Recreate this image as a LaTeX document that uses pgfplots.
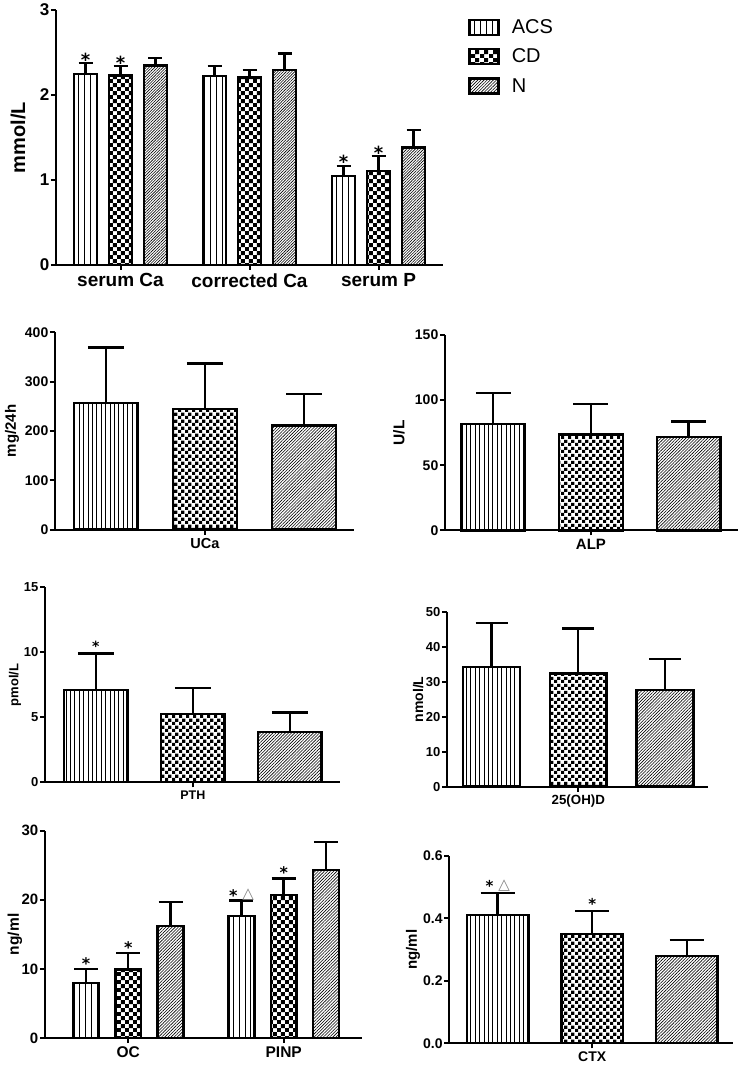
\documentclass[border=0pt]{standalone}
\usepackage{fontspec}
\setmainfont{Liberation Sans}
\newfontfamily\dejavu{DejaVu Sans}
\usepackage{pgfplots}
\pgfplotsset{compat=1.18}
\usetikzlibrary{patterns,patterns.meta}

\pgfdeclarepatternformonly{checkL}{\pgfpointorigin}{\pgfqpoint{8.4pt}{8.4pt}}{\pgfqpoint{8.4pt}{8.4pt}}{%
 \pgfpathrectangle{\pgfpointorigin}{\pgfqpoint{4.2pt}{4.2pt}}%
 \pgfpathrectangle{\pgfqpoint{4.2pt}{4.2pt}}{\pgfqpoint{4.2pt}{4.2pt}}%
 \pgfusepath{fill}}
\pgfdeclarepatternformonly{checkS}{\pgfpointorigin}{\pgfqpoint{6.6pt}{6.6pt}}{\pgfqpoint{6.6pt}{6.6pt}}{%
 \pgfpathrectangle{\pgfpointorigin}{\pgfqpoint{3.3pt}{3.3pt}}%
 \pgfpathrectangle{\pgfqpoint{3.3pt}{3.3pt}}{\pgfqpoint{3.3pt}{3.3pt}}%
 \pgfusepath{fill}}

\newcommand\fs[1]{\fontsize{#1}{#1}\selectfont}
\newcommand\st{{\dejavu\bfseries *}}
\newcommand\tri{{\dejavu\fontsize{15}{15}\selectfont\color{gray}\raisebox{2.5pt}{△}}}

\pgfplotsset{
 panel/.style={scale only axis, anchor=south west, clip=false,
   axis x line=bottom, axis y line=left,
   axis line style={line width=2pt,-}, tick align=outside, major tick length=5pt,
   tick style={line width=2pt, black}, ymin=0,
   yticklabel style={inner sep=1.5pt},
   /pgf/number format/assume math mode=true},
 bA/.style={ybar, bar shift=0pt, draw=black, line width=2.4pt, pattern={Lines[angle=90,distance=#1,line width=0.8pt]}, forget plot},
 bC/.style={ybar, bar shift=0pt, draw=black, line width=2.4pt, pattern=#1, forget plot},
 bN/.style={ybar, bar shift=0pt, draw=black, line width=2.4pt, pattern={Lines[angle=45,distance=#1,line width=0.6pt]}, forget plot},
 eb/.style={/pgfplots/error bars/y dir=plus, /pgfplots/error bars/y explicit,
   /pgfplots/error bars/error bar style={line width=2.4pt,black},
   /pgfplots/error bars/error mark options={rotate=90, line width=2.4pt, mark size=#1, black}},
 stars/.style 2 args={draw=none, forget plot, nodes near coords, point meta=explicit symbolic,
   nodes near coords style={anchor=base, inner sep=0pt, font=#1, yshift=#2}},
}

\begin{document}
\begin{tikzpicture}
\useasboundingbox (0,0) rectangle (742pt,1065pt);

% ---------- Panel 1 ----------
\begin{axis}[panel, at={(56pt,800pt)}, width=387pt, height=255pt,
 xmin=-0.5, xmax=2.5, ymax=3, ytick={0,1,2,3}, xtick={0,1,2},
 xticklabels={serum Ca, corrected Ca, serum P},
 bar width=0.175,
 yticklabel style={font=\fs{17}\bfseries},
 xticklabel style={font=\fs{19}\bfseries},
 ylabel={mmol/L}, ylabel style={font=\fs{20}\bfseries, at={(axis description cs:-0.098,0.5)}, anchor=center},
 legend image code/.code={\draw[#1] (0pt,-7.5pt) rectangle (29pt,7.5pt);},
 legend style={at={(1.065,0.975)}, anchor=north west, draw=none, fill=none, font=\fs{20},
   row sep=8pt, column sep=9pt, inner sep=0pt, nodes={inner sep=3pt}},
 legend cell align=left]
\addplot[bA=6pt, eb=7pt] coordinates {(-0.2713,2.247) +- (0,0.126) (0.7287,2.220) +- (0,0.120) (1.7287,1.047) +- (0,0.121)};
\addplot[bC=checkL, eb=7pt] coordinates {(0,2.227) +- (0,0.114) (1,2.208) +- (0,0.086) (2,1.109) +- (0,0.173)};
\addplot[bN=2pt, eb=7pt] coordinates {(0.2713,2.345) +- (0,0.087) (1.2713,2.294) +- (0,0.196) (2.2713,1.380) +- (0,0.208)};
\addplot[stars={\fs{18}}{-3.1pt}] coordinates {(-0.2713,2.373) [\st] (0,2.341) [\st] (1.7287,1.168) [\st] (2,1.282) [\st]};
\addlegendimage{draw=black, line width=2.4pt, pattern={Lines[angle=90,distance=6pt,line width=0.9pt]}}
\addlegendentry{ACS}
\addlegendimage{draw=black, line width=2.4pt, pattern=checkL}
\addlegendentry{CD}
\addlegendimage{draw=black, line width=2.4pt, pattern={Lines[angle=45,distance=2.2pt,line width=0.6pt]}}
\addlegendentry{N}
\end{axis}

% ---------- Panel 2: UCa ----------
\begin{axis}[panel, at={(55pt,535.3pt)}, width=299pt, height=197.4pt,
 xmin=-1.515, xmax=1.505, ymax=400, ytick={0,100,200,300,400}, xtick={0}, xticklabels={UCa},
 bar width=0.645,
 yticklabel style={font=\fs{14}\bfseries}, xticklabel style={font=\fs{14.5}\bfseries},
 ylabel={mg/24h}, ylabel style={font=\fs{15}\bfseries, at={(axis description cs:-0.144,0.5)}, anchor=center}]
\addplot[bA=4.4pt, eb=18pt] coordinates {(-1,257) +- (0,112)};
\addplot[bC=checkS, eb=18pt] coordinates {(0,245) +- (0,92)};
\addplot[bN=2.2pt, eb=18pt] coordinates {(1,211) +- (0,64)};
\end{axis}

% ---------- Panel 3: ALP ----------
\begin{axis}[panel, at={(445pt,534.5pt)}, width=293pt, height=195.5pt,
 xmin=-1.494, xmax=1.505, ymax=150, ytick={0,50,100,150}, xtick={0}, xticklabels={ALP},
 bar width=0.651,
 yticklabel style={font=\fs{14}\bfseries}, xticklabel style={font=\fs{15}\bfseries},
 ylabel={U/L}, ylabel style={font=\fs{15.5}\bfseries, at={(axis description cs:-0.157,0.5)}, anchor=center}]
\addplot[bA=4.4pt, eb=17.5pt] coordinates {(-1,81.5) +- (0,24)};
\addplot[bC=checkS, eb=17.5pt] coordinates {(0,73.7) +- (0,23.2)};
\addplot[bN=2.2pt, eb=17.5pt] coordinates {(1,71.8) +- (0,11.8)};
\end{axis}

% ---------- Panel 4: PTH ----------
\begin{axis}[panel, at={(45pt,282.7pt)}, width=295pt, height=195pt,
 xmin=-1.524, xmax=1.518, ymax=15, ytick={0,5,10,15}, xtick={0}, xticklabels={PTH},
 bar width=0.656,
 yticklabel style={font=\fs{13}\bfseries}, xticklabel style={font=\fs{12.5}\bfseries},
 ylabel={pmol/L}, ylabel style={font=\fs{13}\bfseries, at={(axis description cs:-0.102,0.5)}, anchor=center}]
\addplot[bA=4.4pt, eb=18pt] coordinates {(-1,7.1) +- (0,2.82)};
\addplot[bC=checkS, eb=18pt] coordinates {(0,5.25) +- (0,2.0)};
\addplot[bN=2.2pt, eb=18pt] coordinates {(1,3.85) +- (0,1.53)};
\addplot[stars={\fs{14}}{1.6pt}] coordinates {(-1,9.92) [\st]};
\end{axis}

% ---------- Panel 5: 25(OH)D ----------
\begin{axis}[panel, at={(447pt,278.3pt)}, width=261pt, height=174.4pt,
 xmin=-1.514, xmax=1.496, ymax=50, ytick={0,10,20,30,40,50}, xtick={0}, xticklabels={25(OH)D},
 bar width=0.653,
 yticklabel style={font=\fs{13}\bfseries}, xticklabel style={font=\fs{13.3}\bfseries},
 ylabel={nmol/L}, ylabel style={font=\fs{14}\bfseries, at={(axis description cs:-0.11,0.5)}, anchor=center}]
\addplot[bA=4.4pt, eb=16pt] coordinates {(-1,34.3) +- (0,12.6)};
\addplot[bC=checkS, eb=16pt] coordinates {(0,32.4) +- (0,13.0)};
\addplot[bN=2.2pt, eb=16pt] coordinates {(1,27.8) +- (0,8.8)};
\end{axis}

% ---------- Panel 6: OC / PINP ----------
\begin{axis}[panel, at={(45pt,27pt)}, width=316.7pt, height=207.3pt,
 xmin=-0.536, xmax=1.502, ymax=30, ytick={0,10,20,30}, xtick={0,1}, xticklabels={OC,PINP},
 bar width=0.165,
 yticklabel style={font=\fs{15}\bfseries}, xticklabel style={font=\fs{15.5}\bfseries},
 ylabel={ng/ml}, ylabel style={font=\fs{15.5}\bfseries, at={(axis description cs:-0.095,0.5)}, anchor=center}]
\addplot[bA=5.7pt, eb=12pt] coordinates {(-0.2716,8.0) +- (0,1.98) (0.7284,17.66) +- (0,2.24)};
\addplot[bC=checkL, eb=12pt] coordinates {(0,9.94) +- (0,2.36) (1,20.7) +- (0,2.4)};
\addplot[bN=2.2pt, eb=12pt] coordinates {(0.2716,16.2) +- (0,3.5) (1.2716,24.3) +- (0,4.1)};
\addplot[stars={\fs{16}}{-0.6pt}] coordinates {(-0.2716,9.98) [\st] (0,12.3) [\st] (0.7284,19.9) [{\st\hspace{5pt}\tri}] (1,23.1) [\st]};
\end{axis}

% ---------- Panel 7: CTX ----------
\begin{axis}[panel, at={(449.3pt,21.7pt)}, width=283.7pt, height=187.6pt,
 xmin=-1.512, xmax=1.49, ymax=0.6, ytick={0,0.2,0.4,0.6}, xtick={0}, xticklabels={CTX},
 bar width=0.652,
 yticklabel style={font=\fs{14}\bfseries, /pgf/number format/.cd, fixed, fixed zerofill, precision=1},
 xticklabel style={font=\fs{14}\bfseries},
 ylabel={ng/ml}, ylabel style={font=\fs{15}\bfseries, at={(axis description cs:-0.128,0.5)}, anchor=center}]
\addplot[bA=4.4pt, eb=17pt] coordinates {(-1,0.41) +- (0,0.07)};
\addplot[bC=checkS, eb=17pt] coordinates {(0,0.35) +- (0,0.073)};
\addplot[bN=2.2pt, eb=17pt] coordinates {(1,0.28) +- (0,0.05)};
\addplot[stars={\fs{15}}{1.7pt}] coordinates {(-1,0.48) [{\st\hspace{5pt}\tri}] (0,0.423) [\st]};
\end{axis}
\end{tikzpicture}
\end{document}
